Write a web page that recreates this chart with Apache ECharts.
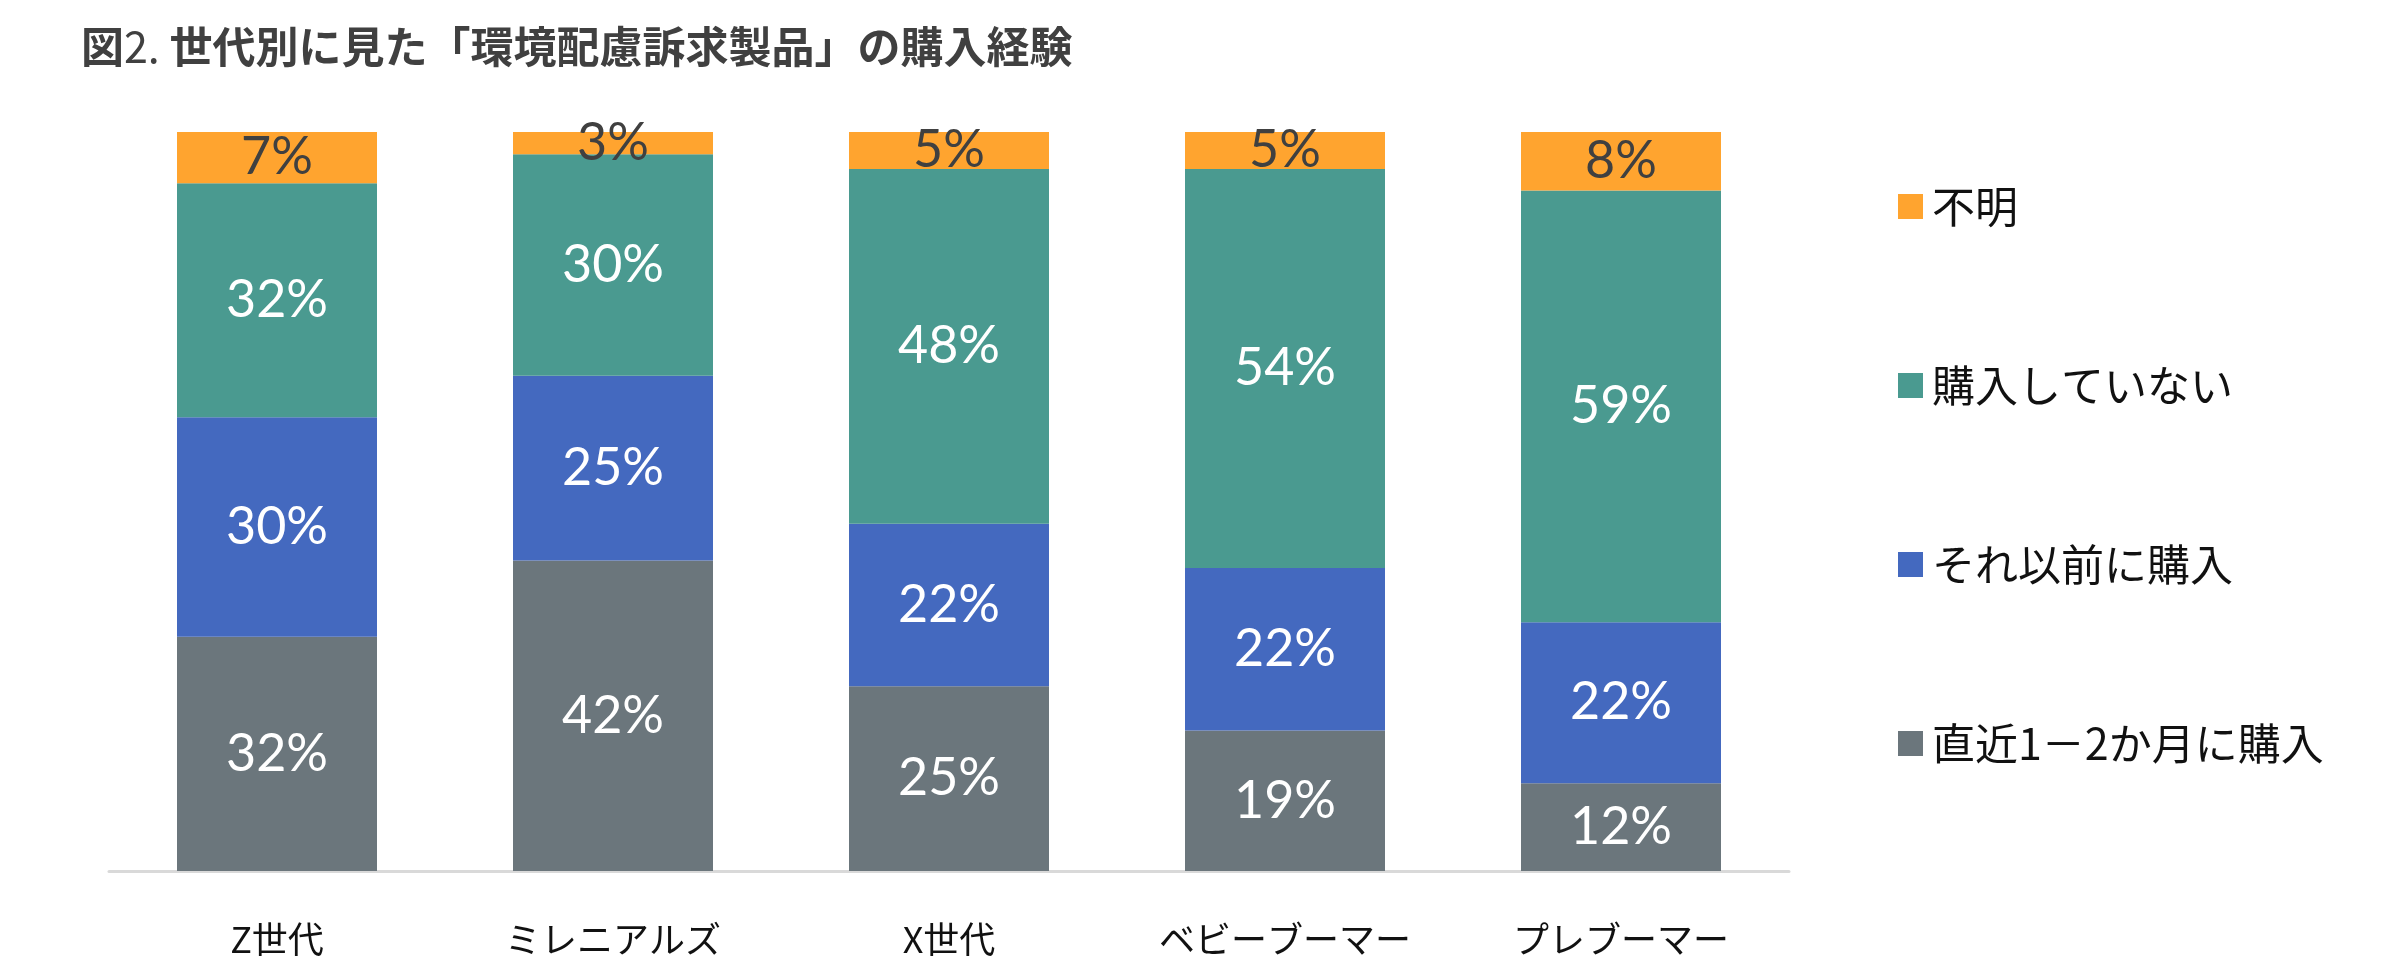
<!DOCTYPE html>
<html><head><meta charset="utf-8">
<script src="https://cdn.jsdelivr.net/npm/echarts@6/dist/echarts.min.js"></script>
<style>html,body{margin:0;padding:0;background:#fff}#c{width:2382px;height:971px}</style>
</head><body><div id="c"></div>
<script>
const categories = ['Z世代', 'ミレニアルズ', 'X世代', 'ベビーブーマー', 'プレブーマー'];
const seriesNames = ['直近1－2か月に購入', 'それ以前に購入', '購入していない', '不明'];
const recent = [32, 42, 25, 19, 12];
const earlier = [30, 25, 22, 22, 22];
const notPurchased = [32, 30, 48, 54, 59];
const unknown = [7, 3, 5, 5, 8];
const colors = ['#6B767C', '#4469BF', '#4A9A90', '#FFA42F'];
const labelColors = ['#ffffff', '#ffffff', '#ffffff', '#404040'];

const raw = [recent, earlier, notPurchased, unknown];
const totals = categories.map((_, i) => raw.reduce((s, arr) => s + arr[i], 0));

const chart = echarts.init(document.getElementById('c'));
chart.setOption({
  animation: false,
  title: {
    left: 76, top: 20,
    text: '{b|図}{n|2. }{b|世代別に見た「環境配慮訴求製品」の購入経験}',
    textStyle: {
      rich: {
        b: {fontFamily: 'Noto Sans CJK JP', fontWeight: 'bold', fontSize: 43, color: '#404040'},
        n: {fontFamily: 'Noto Sans CJK JP', fontWeight: 'normal', fontSize: 43, color: '#404040'}
      }
    }
  },
  legend: {
    orient: 'vertical', left: 1893, top: 180,
    data: seriesNames.slice().reverse(),
    itemWidth: 25, itemHeight: 25, itemGap: 136,
    icon: 'rect',
    textStyle: {fontFamily: 'Noto Sans CJK JP', fontSize: 43, color: '#111', padding: [0, 0, 0, 4]}
  },
  grid: {left: 109, width: 1680, top: 132, bottom: 100},
  xAxis: {
    type: 'category', data: categories,
    axisLine: {lineStyle: {color: '#D9D9D9', width: 3}},
    axisTick: {show: false},
    axisLabel: {interval: 0, fontFamily: 'Noto Sans CJK JP', fontSize: 36, color: '#111', margin: 50}
  },
  yAxis: {type: 'value', min: 0, max: 100, show: false, splitLine: {show: false}},
  series: raw.map((arr, k) => ({
    name: seriesNames[k], type: 'bar', stack: 'total',
    barWidth: 200,
    itemStyle: {color: colors[k]},
    label: {
      show: true, position: 'inside',
      fontFamily: 'Lato', fontSize: 52, color: labelColors[k],
      formatter: p => p.data.raw + '%'
    },
    data: arr.map((v, i) => ({value: v / totals[i] * 100, raw: v}))
  }))
});
</script></body></html>
